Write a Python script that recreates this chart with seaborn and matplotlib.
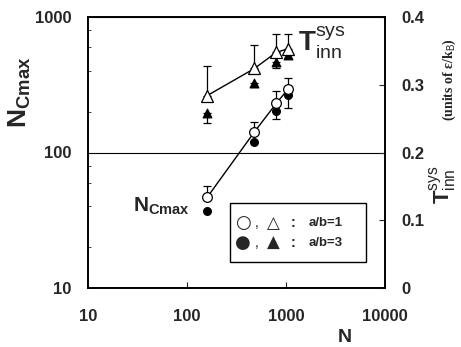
import matplotlib
matplotlib.use("Agg")
import matplotlib.pyplot as plt
import seaborn as sns
import numpy as np
from matplotlib.patches import Rectangle
from matplotlib.ticker import FixedLocator, NullFormatter, LogLocator

# ---- data ----
N = [160, 480, 800, 1050]
# N_Cmax (left axis)
ncmax_ab1 = [46.7, 142, 231, 294]
ncmax_ab1_err_up = [10, 27, 55, 59]
ncmax_ab3 = [37.2, 120, 202, 266]
ncmax_ab3_err_dn = [0, 0, 25, 54]
# T_inn^sys (right axis)
tinn_ab1 = [0.284, 0.324, 0.348, 0.353]
tinn_ab1_err_up = [0.043, 0.034, 0.027, 0.022]
tinn_ab3 = [0.259, 0.302, 0.334, 0.344]
tinn_ab3_err_dn = [0.016, 0.006, 0.010, 0.005]

x_ticks = [10, 100, 1000, 10000]
x_ticklabels = ["10", "100", "1000", "10000"]
yl_ticks = [10, 100, 1000]
yl_ticklabels = ["10", "100", "1000"]
yr_ticks = [0, 0.1, 0.2, 0.3, 0.4]
yr_ticklabels = ["0", "0.1", "0.2", "0.3", "0.4"]

sns.set_style("ticks")
plt.rcParams['font.family'] = ['Liberation Sans', 'DejaVu Sans']
plt.rcParams['mathtext.fontset'] = 'custom'
plt.rcParams['mathtext.rm'] = 'Liberation Sans'
plt.rcParams['mathtext.bf'] = 'Liberation Sans:bold'
plt.rcParams['mathtext.it'] = 'Liberation Sans:italic'

fig = plt.figure(figsize=(4.61, 3.47), dpi=100)
ax = fig.add_axes([88/461, 1-288/347, 297/461, 271/347])
ax2 = ax.twinx()

# left axis: N_Cmax
ax.set_xscale("log")
ax.set_yscale("log")
ax.set_xlim(10, 10000)
ax.set_ylim(10, 1000)
ax.grid(axis='y', which='major', color='black', linewidth=0.8)

ax.errorbar(N, ncmax_ab1, yerr=[np.zeros(4), ncmax_ab1_err_up], fmt='none',
            ecolor='black', elinewidth=0.9, capsize=3, capthick=0.9, zorder=3)
ax.errorbar(N, ncmax_ab3, yerr=[ncmax_ab3_err_dn, np.zeros(4)], fmt='none',
            ecolor='black', elinewidth=0.9, capsize=3, capthick=0.9, zorder=3)
sns.scatterplot(x=N, y=ncmax_ab3, ax=ax, marker='o', color='black', s=32,
                edgecolor='black', linewidth=0.8, zorder=4)
sns.lineplot(x=N, y=ncmax_ab1, ax=ax, color='black', linewidth=1.0,
             marker='o', markersize=7, markerfacecolor='white',
             markeredgecolor='black', markeredgewidth=0.9, zorder=5)

# right axis: T
ax2.set_ylim(0, 0.4)
ax2.errorbar(N, tinn_ab1, yerr=[np.zeros(4), tinn_ab1_err_up], fmt='none',
             ecolor='black', elinewidth=0.9, capsize=3, capthick=0.9, zorder=3)
ax2.errorbar(N, tinn_ab3, yerr=[tinn_ab3_err_dn, np.zeros(4)], fmt='none',
             ecolor='black', elinewidth=0.9, capsize=3, capthick=0.9, zorder=3)
sns.scatterplot(x=N, y=tinn_ab3, ax=ax2, marker='^', color='black', s=40,
                edgecolor='black', linewidth=0.8, zorder=4)
sns.lineplot(x=N, y=tinn_ab1, ax=ax2, color='black', linewidth=1.0,
             marker='^', markersize=8, markerfacecolor='white',
             markeredgecolor='black', markeredgewidth=0.9, zorder=5)

# ticks
ax.xaxis.set_major_locator(FixedLocator(x_ticks))
ax.set_xticklabels(x_ticklabels)
ax.xaxis.set_minor_formatter(NullFormatter())
ax.xaxis.set_minor_locator(FixedLocator([]))
ax.yaxis.set_major_locator(FixedLocator(yl_ticks))
ax.set_yticklabels(yl_ticklabels)
ax.yaxis.set_minor_locator(LogLocator(base=10, subs=(2, 4, 6, 8)))
ax.yaxis.set_minor_formatter(NullFormatter())
ax.tick_params(axis='x', which='major', direction='in', length=4, width=0.8,
               pad=15, labelsize=12)
ax.tick_params(axis='y', which='major', direction='in', length=0,
               pad=12, labelsize=12)
ax.tick_params(axis='y', which='minor', direction='in', length=2, width=0.6)
for lab in ax.get_xticklabels() + ax.get_yticklabels():
    lab.set_fontweight('bold')

ax2.yaxis.set_major_locator(FixedLocator(yr_ticks))
ax2.set_yticklabels(yr_ticklabels)
ax2.tick_params(axis='y', direction='in', length=4, width=0.8, pad=12, labelsize=12)
for lab in ax2.get_yticklabels():
    lab.set_fontweight('bold')

for a in (ax, ax2):
    for s in a.spines.values():
        s.set_visible(True)
        s.set_color('black')
        s.set_linewidth(1.2)
ax.set_xlabel("")
ax.set_ylabel("")
ax2.set_ylabel("")

# in-plot labels
ax2.text((298-88)/297, (288-43)/271, r"$\mathbf{T}^{\rm sys}_{\rm inn}$",
         transform=ax2.transAxes, fontsize=20, ha='left', va='center')
ax.text((190-88)/297, (288-206)/271, r"$\mathbf{N}_{\mathbf{Cmax}}$",
        transform=ax.transAxes, fontsize=15, ha='right', va='center')

# legend box
ax2.add_patch(Rectangle(((230-88)/297, (288-262)/271), 136/297, 59/271,
                        transform=ax2.transAxes, facecolor='white',
                        edgecolor='black', linewidth=1.0, zorder=6))
rows = [("○", "△", "a/b=1", 223), ("●", "▲", "a/b=3", 243)]
for c, t, lab, py in rows:
    yy = (288-py)/271
    ax2.text((243-88)/297, yy, c, transform=ax2.transAxes, fontsize=13,
             family='DejaVu Sans', ha='center', va='center', zorder=7)
    ax2.text((257-88)/297, yy, ",", transform=ax2.transAxes, fontsize=10,
             ha='center', va='center', zorder=7)
    ax2.text((273-88)/297, yy, t, transform=ax2.transAxes, fontsize=12,
             family='DejaVu Sans', ha='center', va='center', zorder=7)
    ax2.text((293-88)/297, yy, ":", transform=ax2.transAxes, fontsize=10,
             fontweight='bold', ha='center', va='center', zorder=7)
    ax2.text((309-88)/297, yy, lab, transform=ax2.transAxes, fontsize=9.5,
             fontweight='bold', ha='left', va='center', zorder=7)

# axis labels
fig.text(345/461, 1-337/347, "N", fontsize=14, fontweight='bold',
         ha='center', va='center')
fig.text(20/461, 1-92/347, r"$\mathbf{N}_{\mathbf{Cmax}}$", fontsize=19,
         rotation=90, ha='center', va='center')
fig.text(443/461, 1-185/347, r"$\mathbf{T}^{\rm sys}_{\rm inn}$", fontsize=16,
         rotation=90, ha='center', va='center')
fig.text(449/461, 1-80/347, r"(units of ε/k$_{\rm B}$)", fontsize=10,
         family=['Liberation Serif', 'DejaVu Serif'], fontweight='bold',
         rotation=90, ha='center', va='center')

fig.savefig("out.png", dpi=100)
